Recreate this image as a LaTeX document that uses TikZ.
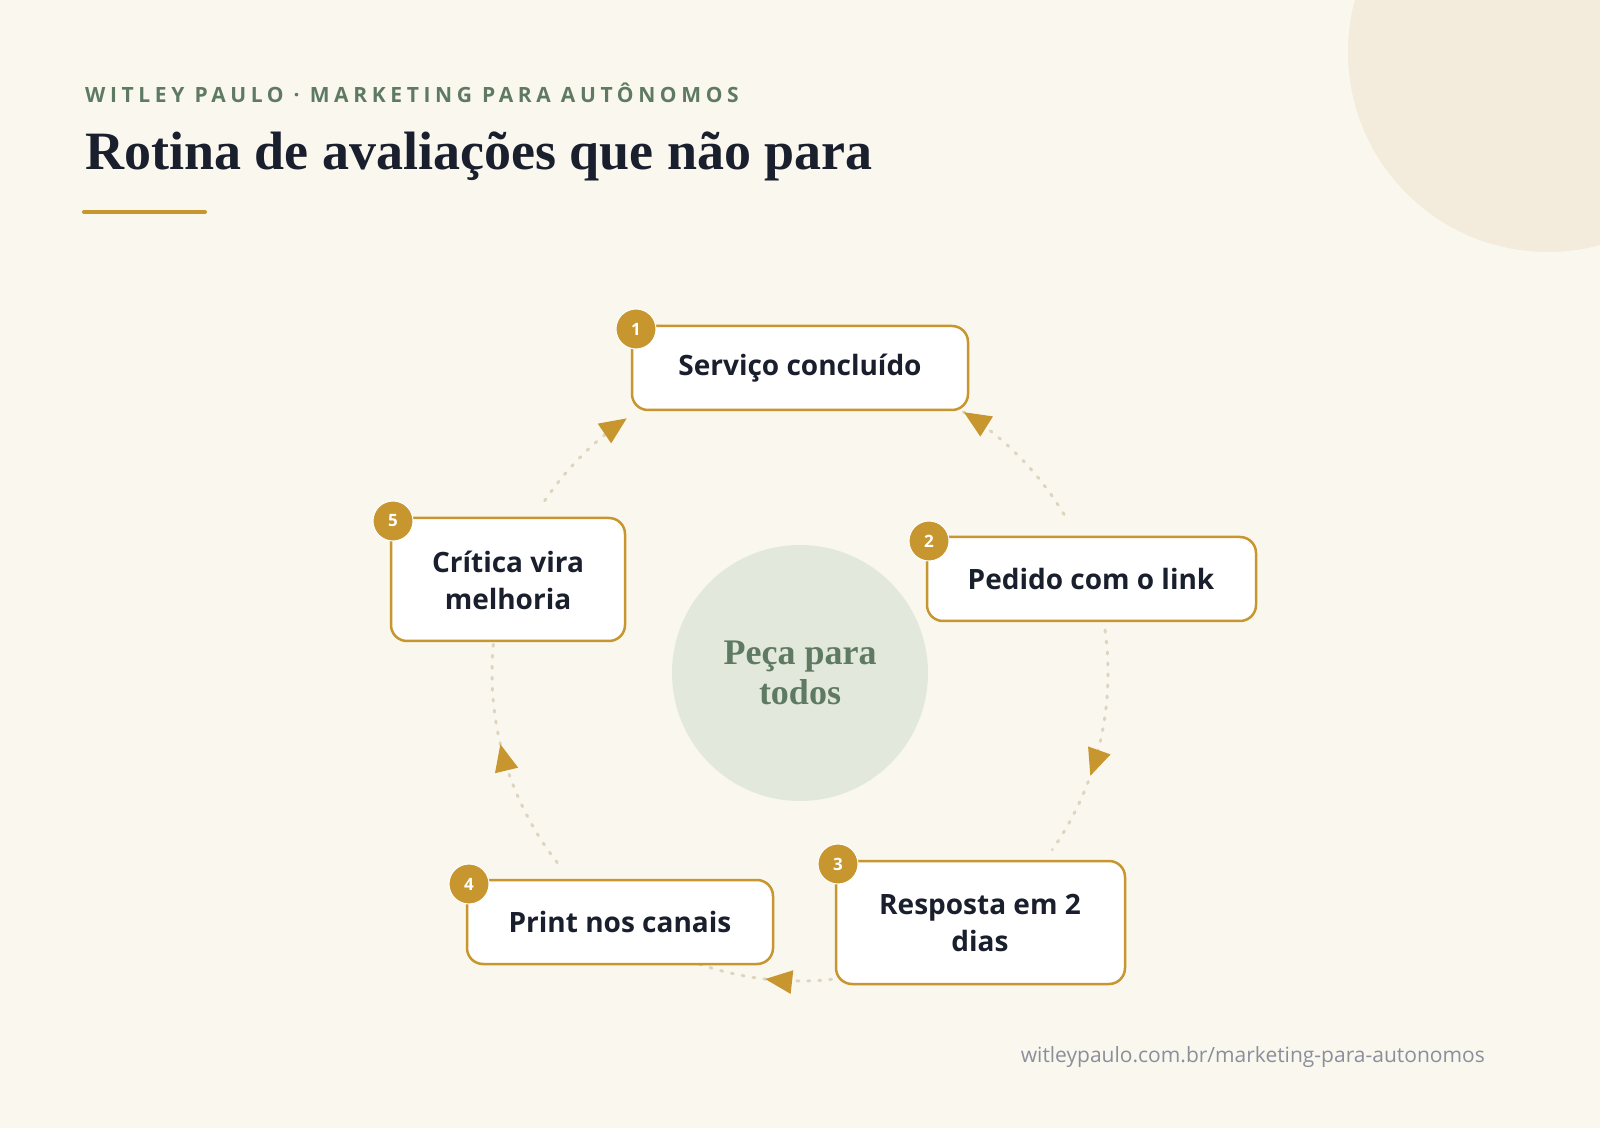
\documentclass[tikz,border=0pt]{standalone}
\usepackage{fontspec}
\setmainfont{Liberation Serif}
\newfontfamily\boxfont{Open Sans}
\usetikzlibrary{arrows.meta,decorations.markings,calc}
\definecolor{bg}{HTML}{FAF7EF}
\definecolor{blob}{HTML}{F3ECDC}
\definecolor{gold}{HTML}{C8962E}
\definecolor{sage}{HTML}{5F7A63}
\definecolor{sagebg}{HTML}{E2E9DC}
\definecolor{ink}{HTML}{1A1F2E}
\definecolor{dashc}{HTML}{DDD5C0}
\definecolor{urlc}{HTML}{8A8F99}
\begin{document}
\begin{tikzpicture}[x=1pt,y=1pt,
  stepbox/.style={draw=gold,line width=2.5pt,fill=white,rounded corners=16pt},
  lbl/.style={font=\boxfont\bfseries\fontsize{28}{37}\selectfont,text=ink,align=center},
  badge/.style={circle,fill=gold,draw=white,line width=1pt,minimum size=40pt,inner sep=0pt,text=white,font=\boxfont\bfseries\fontsize{17}{17}\selectfont},
  flow/.style={draw=dashc,line width=3pt,line cap=round,dash pattern=on 2pt off 9pt},
  tip/.style={postaction={decorate},decoration={markings,mark=at position #1 with {\arrow[gold,solid]{Triangle[length=27pt,width=23pt]}}}}]
\useasboundingbox (0,0) rectangle (1600,1128);
\fill[bg] (0,0) rectangle (1600,1128);
\begin{scope}
\clip (0,0) rectangle (1600,1128);
\fill[blob] (1548,1076) circle (200);
\end{scope}
\node[anchor=base west,inner sep=0,text=sage,font=\boxfont\bfseries\fontsize{21}{21}\selectfont\addfontfeatures{LetterSpace=22}] (hdr) at (85,1025) {WITLEY PAULO · MARKETING PARA AUTÔNOMOS};
\node[anchor=base west,inner sep=0,text=ink,font=\bfseries\fontsize{54}{54}\selectfont] (title) at (85,958) {Rotina de avaliações que não para};
\draw[gold,line width=4pt,line cap=round] (84,916) -- (205,916);
\coordinate (c) at (800,455);
\node[circle,fill=sagebg,minimum size=256pt,text=sage,align=center,font=\bfseries\fontsize{36}{40}\selectfont] (hub) at (c) {Peça para\\todos};
% arcs
\draw[flow,tip=0.96] ($(c)+(31:308)$) arc (31:59:308);
\draw[flow,tip=0.64] ($(c)+(8:308)$) arc (8:-35:308);
\draw[flow,tip=0.55] ($(c)+(-80:308)$) arc (-80:-110:308);
\draw[flow,tip=0.56] ($(c)+(-142:308)$) arc (-142:-186:308);
\draw[flow,tip=0.99] ($(c)+(146:308)$) arc (146:124:308);
% boxes
\draw[stepbox] (632,718) rectangle (968,802);
\node[lbl] (s1) at (800,760) {Serviço concluído};
\node[badge] (b1) at (636,799) {1};
\draw[stepbox] (927,507) rectangle (1256,591);
\node[lbl] (s2) at (1091,549) {Pedido com o link};
\node[badge] (b2) at (929,587) {2};
\draw[stepbox] (836,144) rectangle (1125,267);
\node[lbl] (s3) at (980,205) {Resposta em 2\\dias};
\node[badge] (b3) at (838,264) {3};
\draw[stepbox] (467,164) rectangle (773,248);
\node[lbl] (s4) at (620,206) {Print nos canais};
\node[badge] (b4) at (469,244) {4};
\draw[stepbox] (391,487) rectangle (625,610);
\node[lbl] (s5) at (508,548) {Crítica vira\\melhoria};
\node[badge] (b5) at (393,607) {5};
\node[anchor=base east,inner sep=0,text=urlc,font=\boxfont\fontsize{21}{21}\selectfont] (url) at (1485,66) {witleypaulo.com.br/marketing-para-autonomos};
\end{tikzpicture}
\end{document}
